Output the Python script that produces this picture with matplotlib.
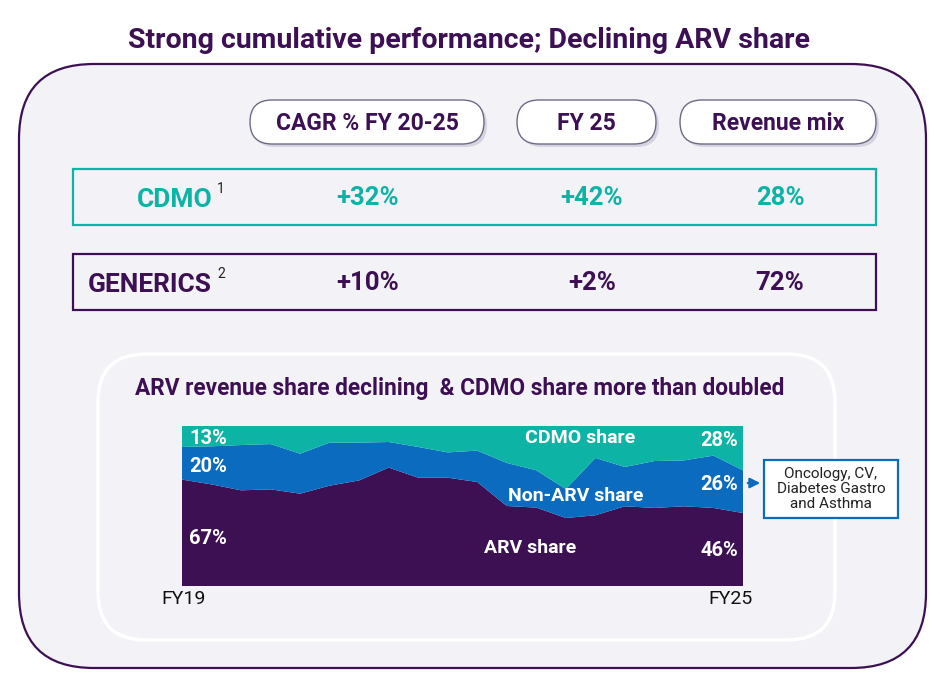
import matplotlib.pyplot as plt
from matplotlib.patches import FancyBboxPatch, Rectangle
import numpy as np

plt.rcParams['font.family'] = ['Roboto', 'DejaVu Sans']

# share of revenue (%) per period, FY19 .. FY25
periods = np.arange(20)
arv_share = [66.5, 63.5, 59.8, 60.4, 57.7, 62.7, 66.0, 74.0, 67.7, 67.7,
             65.0, 50.0, 49.0, 42.5, 44.2, 49.8, 48.8, 49.8, 48.8, 45.6]
non_arv_share = [20.4, 23.8, 28.3, 28.3, 25.0, 26.9, 23.6, 16.0, 19.2, 15.8,
                 19.6, 26.9, 23.3, 18.1, 35.8, 24.6, 29.3, 28.7, 32.7, 26.7]
cdmo_share = [13.1, 12.7, 11.9, 11.3, 17.3, 10.4, 10.4, 10.0, 13.1, 16.5,
              15.4, 23.1, 27.7, 39.4, 20.0, 25.6, 21.9, 21.5, 18.5, 27.7]

headers = ['CAGR % FY 20-25', 'FY 25', 'Revenue mix']
segments = ['CDMO', 'GENERICS']
seg_values = [['+32%', '+42%', '28%'], ['+10%', '+2%', '72%']]
start_labels = ['13%', '20%', '67%']
end_labels = ['28%', '26%', '46%']

purple = '#3C1053'
blue = '#0A6BBF'
teal = '#0DB3A5'
panel = '#F3F2F7'

fig = plt.figure(figsize=(9.43, 6.8), dpi=100)
ax = fig.add_axes([0, 0, 1, 1])
ax.set_xlim(0, 943)
ax.set_ylim(680, 0)
ax.axis('off')

ax.text(469, 40, 'Strong cumulative performance; Declining ARV share',
        ha='center', va='center', fontsize=20.5, fontweight='bold', color=purple)

# outer panel
ax.add_patch(FancyBboxPatch((19, 64), 907, 604, boxstyle='round,pad=0,rounding_size=75',
                            fc=panel, ec=purple, lw=1.6))

# header pills
pills = [(250, 234), (517, 139), (680, 196)]
for (px, pw), h in zip(pills, headers):
    ax.add_patch(FancyBboxPatch((px + 3, 103), pw, 44, boxstyle='round,pad=0,rounding_size=22',
                                fc='#C9C6D6', ec='none', alpha=0.7))
    ax.add_patch(FancyBboxPatch((px, 100), pw, 44, boxstyle='round,pad=0,rounding_size=22',
                                fc='white', ec='#6E6A85', lw=1))
    ax.text(px + pw / 2, 123, h, ha='center', va='center', fontsize=16.5,
            fontweight='bold', color=purple)

# segment rows
row_y = [169, 254]
row_col = [teal, purple]
name_x = [175, 150]
col_x = [368, 592, 780]
for y0, c, nx, name, vals, sup in zip(row_y, row_col, name_x, segments, seg_values, ['1', '2']):
    ax.add_patch(Rectangle((73, y0), 803, 56, fc='none', ec=c, lw=1.6))
    ax.text(nx, y0 + 31, name, ha='center', va='center', fontsize=19,
            fontweight='bold', color=c)
    ax.text(217, y0 + 20, sup, ha='left', va='center', fontsize=10, color='#222222')
    for x, v in zip(col_x, vals):
        ax.text(x, y0 + 29, v, ha='center', va='center', fontsize=18.5,
                fontweight='bold', color=c)

# inner panel
ax.add_patch(FancyBboxPatch((98, 354), 737, 286, boxstyle='round,pad=0,rounding_size=48',
                            fc=panel, ec='white', lw=2.5))
ax.text(460, 389, 'ARV revenue share declining  & CDMO share more than doubled',
        ha='center', va='center', fontsize=16.3, fontweight='bold', color=purple)

# stacked area chart
cax = fig.add_axes([182 / 943, (680 - 586) / 680, 561 / 943, 160 / 680])
cax.stackplot(periods, arv_share, non_arv_share, cdmo_share,
              colors=[purple, blue, teal], edgecolor='none')
cax.set_xlim(periods[0], periods[-1])
cax.set_ylim(0, 100)
cax.axis('off')

# overlay for labels on top of the chart
top = fig.add_axes([0, 0, 1, 1])
top.set_xlim(0, 943)
top.set_ylim(680, 0)
top.axis('off')

for lbl, y in zip(start_labels, [438, 467, 539]):
    top.text(189, y, lbl, ha='left', va='center', fontsize=14.5, fontweight='bold', color='white')
for lbl, y in zip(end_labels, [441, 484, 551]):
    top.text(738, y, lbl, ha='right', va='center', fontsize=14.5, fontweight='bold', color='white')
top.text(580, 438, 'CDMO share', ha='center', va='center', fontsize=14,
         fontweight='bold', color='white')
top.text(576, 496, 'Non-ARV share', ha='center', va='center', fontsize=14,
         fontweight='bold', color='white')
top.text(530, 548, 'ARV share', ha='center', va='center', fontsize=14,
         fontweight='bold', color='white')

top.text(184, 599, 'FY19', ha='center', va='center', fontsize=14, color='#111111')
top.text(730, 599, 'FY25', ha='center', va='center', fontsize=14, color='#111111')

# callout
top.annotate('', xy=(763, 483), xytext=(745, 483),
             arrowprops=dict(arrowstyle='-|>', color=blue, lw=1.6, mutation_scale=15))
top.add_patch(Rectangle((764, 460), 134, 58, fc='white', ec=blue, lw=1.6))
top.text(831, 489, 'Oncology, CV,\nDiabetes Gastro\nand Asthma', ha='center', va='center',
         fontsize=11, color='#222222', linespacing=1.05)

fig.savefig('out.png', dpi=100)
